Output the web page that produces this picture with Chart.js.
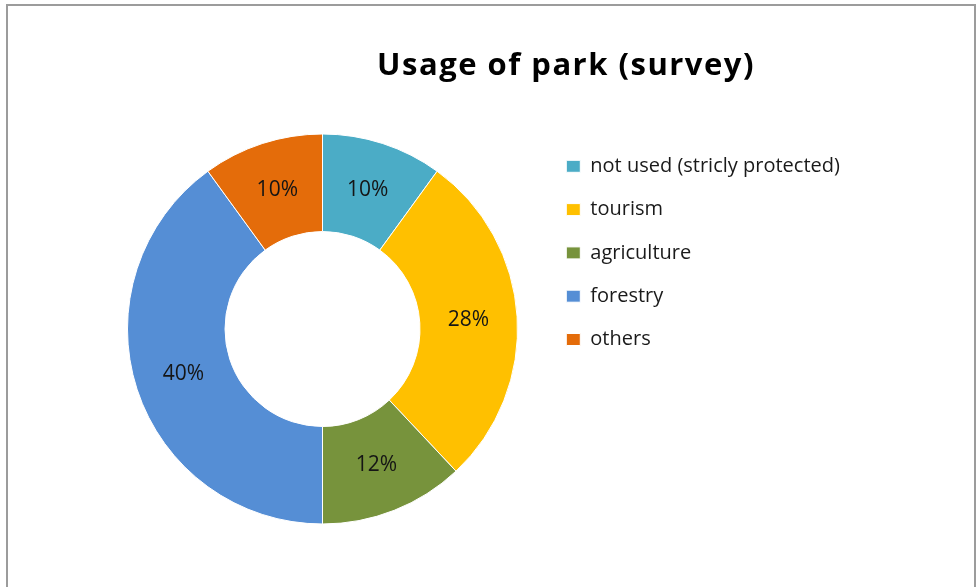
<!DOCTYPE html>
<html>
<head>
<meta charset="utf-8">
<script src="https://cdn.jsdelivr.net/npm/chart.js@4/dist/chart.umd.min.js"></script>
<style>
  html, body { margin: 0; padding: 0; background: #fff; overflow: hidden; }
  #wrap { position: relative; width: 976px; height: 587px; }
  #frame { position: absolute; left: 6px; top: 4px; width: 970px; height: 620px;
           border: 2px solid #9c9c9c; box-sizing: border-box; pointer-events: none; }
  canvas { position: absolute; left: 0; top: 0; }
</style>
</head>
<body>
<div id="wrap">
  <canvas id="c" width="976" height="587"></canvas>
  <div id="frame"></div>
</div>
<script>
const chartTitle = 'Usage of park (survey)';
const categories = ['not used (stricly protected)', 'tourism', 'agriculture', 'forestry', 'others'];
const shares = [10, 28, 12, 40, 10];
const sliceColors = ['#4BACC6', '#FFC000', '#77933C', '#558ED5', '#E46C0A'];

// layout targets
const legendFont = { family: '"Open Sans"', size: 20 };
const legendBox = 14;
const legendPad = 23.3;
const areaLeft = 102, areaRight = 543;

// width of the longest legend label, to place the legend right after the chart area
const mctx = document.createElement('canvas').getContext('2d');
mctx.font = legendFont.size + 'px ' + legendFont.family;
const maxText = Math.max(...categories.map(t => mctx.measureText(t).width));
const legendWidth = legendPad + legendBox + legendFont.size / 2 + maxText + 10;
const padRight = 976 - areaRight - legendWidth;

const sliceLabels = {
  id: 'sliceLabels',
  afterDatasetsDraw(chart) {
    const ctx = chart.ctx;
    const meta = chart.getDatasetMeta(0);
    ctx.save();
    ctx.font = '21px "Open Sans"';
    ctx.fillStyle = '#151515';
    ctx.textAlign = 'center';
    ctx.textBaseline = 'middle';
    meta.data.forEach((arc, i) => {
      const p = arc.tooltipPosition();
      ctx.fillText(chart.data.datasets[0].data[i] + '%', p.x, p.y);
    });
    ctx.restore();
  }
};

const customTitle = {
  id: 'customTitle',
  afterDraw(chart, args, opts) {
    const ctx = chart.ctx;
    ctx.save();
    ctx.font = 'bold 31px "Open Sans"';
    ctx.fillStyle = '#000';
    ctx.textAlign = 'center';
    ctx.textBaseline = 'alphabetic';
    try { ctx.letterSpacing = '1.5px'; } catch (e) {}
    ctx.fillText(opts.text, opts.x, opts.y);
    ctx.restore();
  }
};

new Chart(document.getElementById('c'), {
  type: 'doughnut',
  data: {
    labels: categories,
    datasets: [{
      data: shares,
      backgroundColor: sliceColors,
      borderColor: '#ffffff',
      borderWidth: 1,
      radius: 195,
      cutout: '50%'
    }]
  },
  options: {
    responsive: false,
    animation: false,
    events: [],
    layout: { padding: { left: areaLeft, right: padRight, top: 133, bottom: 62 } },
    plugins: {
      title: { display: false },
      tooltip: { enabled: false },
      customTitle: { text: chartTitle, x: 566, y: 75 },
      legend: {
        position: 'right',
        align: 'start',
        labels: {
          boxWidth: legendBox,
          boxHeight: 12,
          padding: legendPad,
          color: '#1a1a1a',
          font: legendFont
        }
      }
    }
  },
  plugins: [sliceLabels, customTitle]
});
</script>
</body>
</html>
